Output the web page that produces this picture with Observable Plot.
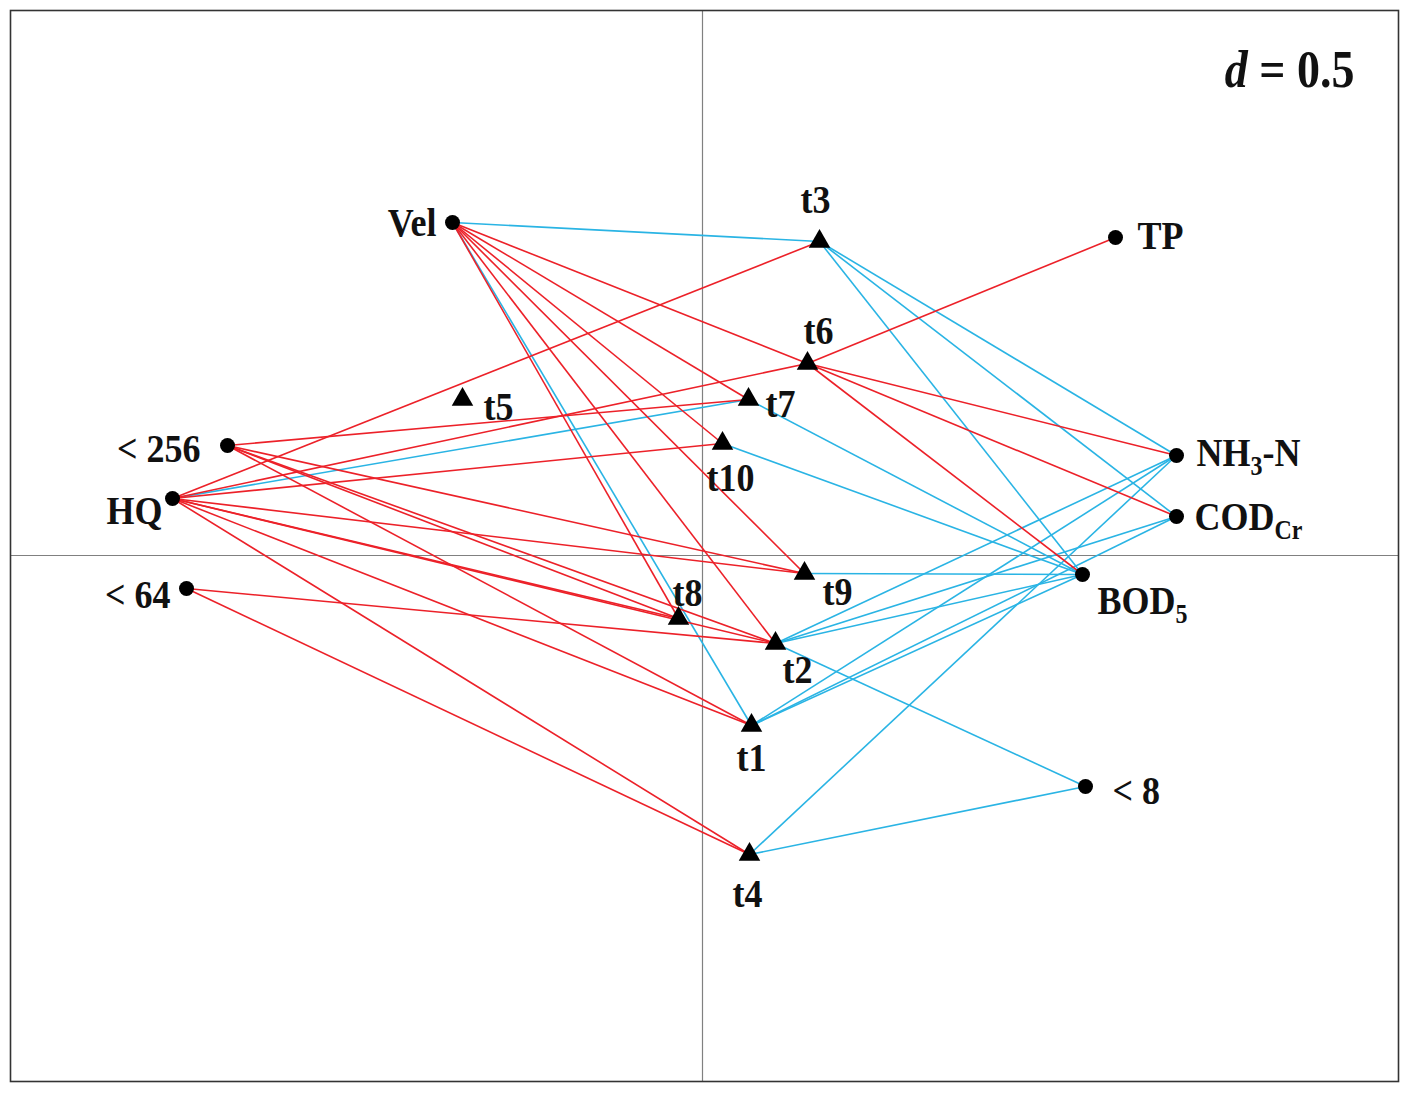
<!DOCTYPE html>
<html>
<head>
<meta charset="utf-8">
<script src="https://cdn.jsdelivr.net/npm/d3@7"></script>
<script src="https://cdn.jsdelivr.net/npm/@observablehq/plot@0.6"></script>
<style>
html, body { margin: 0; padding: 0; background: #fff; }
#chart svg { display: block; }
</style>
</head>
<body>
<div id="chart"></div>
<script>
// ---- Data (ordination scores) ----
const nodeNames = ["Vel", "TP", "< 256", "HQ", "< 64", "NH3-N", "CODCr", "BOD5", "< 8",
                   "t1", "t2", "t3", "t4", "t5", "t6", "t7", "t8", "t9", "t10"];
const nodeX = [-0.625, 1.0325, -1.1875, -1.325, -1.29, 1.185, 1.185, 0.95, 0.9575,
               0.1225, 0.1825, 0.2925, 0.1175, -0.6, 0.2625, 0.115, -0.06, 0.255, 0.05];
const nodeY = [0.8325, 0.795, 0.275, 0.1425, -0.0825, 0.25, 0.0975, -0.0475, -0.5775,
               -0.425, -0.22, 0.785, -0.7475, 0.39, 0.48, 0.39, -0.1575, -0.045, 0.28];
const nodeKind = ["env", "env", "env", "env", "env", "env", "env", "env", "env",
                  "t", "t", "t", "t", "t", "t", "t", "t", "t", "t"];

// edges: sign +1 = red, -1 = blue
const edgeFrom = [
  "Vel", "Vel", "Vel", "Vel", "Vel", "Vel",
  "HQ", "HQ", "HQ", "HQ", "HQ", "HQ", "HQ", "HQ",
  "< 256", "< 256", "< 256", "< 256", "< 256",
  "< 64", "< 64",
  "TP", "NH3-N", "CODCr", "BOD5",
  "Vel", "Vel", "HQ",
  "NH3-N", "NH3-N", "NH3-N", "NH3-N",
  "CODCr", "CODCr", "CODCr",
  "BOD5", "BOD5", "BOD5", "BOD5", "BOD5", "BOD5",
  "< 8", "< 8"
];
const edgeTo = [
  "t6", "t7", "t10", "t9", "t2", "t8",
  "t3", "t6", "t10", "t9", "t8", "t2", "t1", "t4",
  "t7", "t9", "t8", "t2", "t1",
  "t2", "t4",
  "t6", "t6", "t6", "t6",
  "t3", "t1", "t7",
  "t3", "t2", "t1", "t4",
  "t3", "t2", "t1",
  "t3", "t7", "t10", "t9", "t2", "t1",
  "t2", "t4"
];
const edgeSign = [
  1, 1, 1, 1, 1, 1,
  1, 1, 1, 1, 1, 1, 1, 1,
  1, 1, 1, 1, 1,
  1, 1,
  1, 1, 1, 1,
  -1, -1, -1,
  -1, -1, -1, -1,
  -1, -1, -1,
  -1, -1, -1, -1, -1, -1,
  -1, -1
];

const scaleNote = "d = 0.5";

// ---- Label placement (pixel offsets, anchor) ----
const labelLayout = {
  "Vel": [-16, 0, "end"], "TP": [22, -2, "start"], "< 256": [-27, 3, "end"],
  "HQ": [-10, 12, "end"], "< 64": [-16, 6, "end"], "NH3-N": [20, -3, "start"],
  "CODCr": [18, 0, "start"], "BOD5": [15, 26, "start"], "< 8": [27, 4, "start"],
  "t1": [0, 32, "middle"], "t2": [22, 26, "middle"], "t3": [-4, -42, "middle"],
  "t4": [-2, 39, "middle"], "t5": [21, 7, "start"], "t6": [11, -33, "middle"],
  "t7": [17, 4, "start"], "t8": [9, -26, "middle"], "t9": [18, 18, "start"],
  "t10": [8, 34, "middle"]
};

const RED = "#ec2129";
const BLUE = "#2ab4e4";
const W = 1408, H = 1093;

const nodes = nodeNames.map((n, i) => ({name: n, x: nodeX[i], y: nodeY[i], kind: nodeKind[i]}));
const byName = new Map(nodes.map(d => [d.name, d]));
const links = edgeFrom.map((f, i) => ({a: byName.get(f), b: byName.get(edgeTo[i]), sign: edgeSign[i]}));

const labelMarks = nodes.map(d => {
  const L = labelLayout[d.name];
  return Plot.text([d], {
    x: "x", y: "y", text: "name", dx: L[0], dy: L[1], textAnchor: L[2],
    fontSize: 36, fontWeight: "bold", fill: "#111", className: "lbl"
  });
});

const linkOpts = {x1: d => d.a.x, y1: d => d.a.y, x2: d => d.b.x, y2: d => d.b.y, strokeWidth: 1.6};

const chart = Plot.plot({
  width: W, height: H,
  marginLeft: 10, marginRight: 10, marginTop: 10, marginBottom: 12,
  x: {domain: [-1.73, 1.74], axis: null},
  y: {domain: [-1.315, 1.3625], axis: null},
  style: {fontFamily: "'Liberation Serif', 'Times New Roman', serif", background: "#fff"},
  marks: [
    Plot.ruleX([0], {stroke: "#808080", strokeWidth: 1.2}),
    Plot.ruleY([0], {stroke: "#808080", strokeWidth: 1.2}),
    Plot.link(links.filter(d => d.sign < 0), {...linkOpts, stroke: BLUE}),
    Plot.link(links.filter(d => d.sign > 0), {...linkOpts, stroke: RED}),
    Plot.dot(nodes.filter(d => d.kind === "env"), {x: "x", y: "y", r: 7.5, fill: "#000", stroke: "none"}),
    Plot.dot(nodes.filter(d => d.kind === "t"), {x: "x", y: "y", r: 8, symbol: "triangle", fill: "#000", stroke: "none"}),
    ...labelMarks,
    Plot.text([scaleNote], {frameAnchor: "top-right", textAnchor: "end", lineAnchor: "middle",
      dx: -44, dy: 60, fontSize: 46, fontWeight: "bold", fill: "#111"}),
    Plot.frame({stroke: "#333", strokeWidth: 1.6})
  ]
});

// rich text: subscripts and italic, plus slight vertical stretch like the original figure
const svgNS = "http://www.w3.org/2000/svg";
const rich = {
  "NH3-N": [["NH", 0], ["3", 1], ["-N", 0]],
  "CODCr": [["COD", 0], ["Cr", 1]],
  "BOD5": [["BOD", 0], ["5", 1]],
  "d = 0.5": [["d", 2], [" = 0.5", 0]]
};
d3.select(chart).selectAll("text").each(function() {
  const tr = this.getAttribute("transform");
  if (tr && !this.hasAttribute("x")) this.setAttribute("transform", tr + " scale(1,1.14)");
  const t = this.textContent;
  const parts = rich[t];
  if (!parts) return;
  this.textContent = "";
  let shifted = false;
  for (const [s, k] of parts) {
    const ts = document.createElementNS(svgNS, "tspan");
    ts.textContent = s;
    if (k === 1) {
      ts.setAttribute("font-size", "24");
      if (!shifted) { ts.setAttribute("dy", "8"); shifted = true; }
    } else {
      if (shifted) { ts.setAttribute("dy", "-8"); shifted = false; }
      if (k === 2) ts.setAttribute("font-style", "italic");
    }
    this.appendChild(ts);
  }
});

document.getElementById("chart").appendChild(chart);
</script>
</body>
</html>
